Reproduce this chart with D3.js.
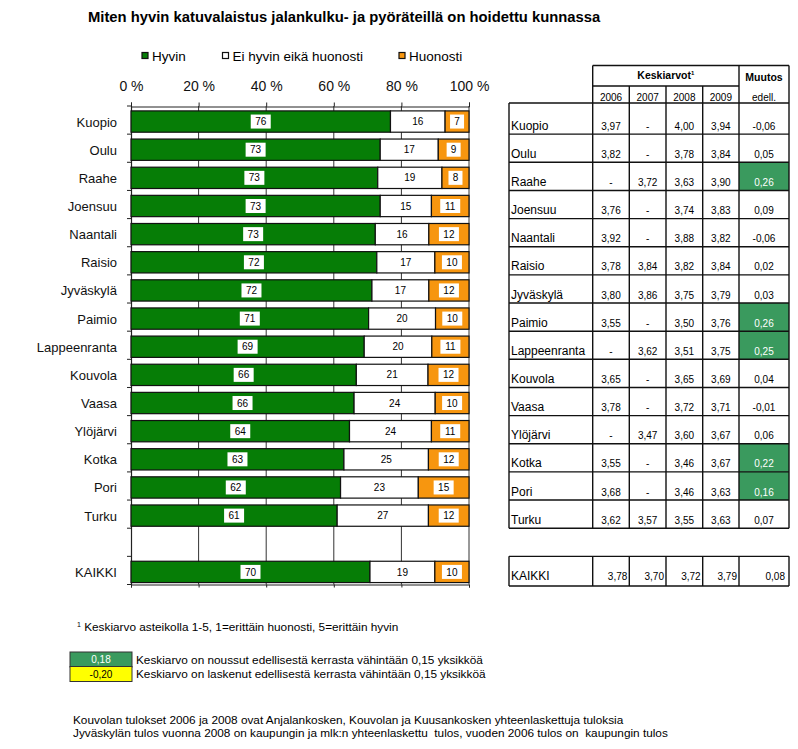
<!DOCTYPE html>
<html>
<head>
<meta charset="utf-8">
<script src="https://cdn.jsdelivr.net/npm/d3@7"></script>
<style>
  html, body { margin: 0; padding: 0; background: #fff; }
  svg { display: block; font-family: "Liberation Sans", Arial, sans-serif; }
  text { white-space: pre; }
</style>
</head>
<body>
<svg id="chart" width="798" height="749"></svg>
<script>
// ---------------- DATA ----------------
const cities = ["Kuopio","Oulu","Raahe","Joensuu","Naantali","Raisio","Jyväskylä","Paimio",
  "Lappeenranta","Kouvola","Vaasa","Ylöjärvi","Kotka","Pori","Turku","KAIKKI"];
const hyvin    = [76,73,73,73,73,72,72,71,69,66,66,64,63,62,61,70];
const eiHyvin  = [16,17,19,15,16,17,17,20,20,21,24,24,25,23,27,19];
const huonosti = [7, 9, 8, 11,12,10,12,10,11,12,10,11,12,15,12,10];
const seriesNames = ["Hyvin","Ei hyvin eikä huonosti","Huonosti"];
const xTicks = [0,20,40,60,80,100];

const years = ["2006","2007","2008","2009"];
const v2006 = ["3,97","3,82","-","3,76","3,92","3,78","3,80","3,55","-","3,65","3,78","-","3,55","3,68","3,62","3,78"];
const v2007 = ["-","-","3,72","-","-","3,84","3,86","-","3,62","-","-","3,47","-","-","3,57","3,70"];
const v2008 = ["4,00","3,78","3,63","3,74","3,88","3,82","3,75","3,50","3,51","3,65","3,72","3,60","3,46","3,46","3,55","3,72"];
const v2009 = ["3,94","3,84","3,90","3,83","3,82","3,84","3,79","3,76","3,75","3,69","3,71","3,67","3,67","3,63","3,63","3,79"];
const muutos = ["-0,06","0,05","0,26","0,09","-0,06","0,02","0,03","0,26","0,25","0,04","-0,01","0,06","0,22","0,16","0,07","0,08"];

const title = "Miten hyvin katuvalaistus jalankulku- ja pyöräteillä on hoidettu kunnassa";
const footnote1 = "Keskiarvo asteikolla 1-5, 1=erittäin huonosti, 5=erittäin hyvin";
const legendUp = ["0,18", "Keskiarvo on noussut edellisestä kerrasta vähintään 0,15 yksikköä"];
const legendDown = ["-0,20", "Keskiarvo on laskenut edellisestä kerrasta vähintään 0,15 yksikköä"];
const notes = ["Kouvolan tulokset 2006 ja 2008 ovat Anjalankosken, Kouvolan ja Kuusankosken yhteenlaskettuja tuloksia",
  "Jyväskylän tulos vuonna 2008 on kaupungin ja mlk:n yhteenlaskettu  tulos, vuoden 2006 tulos on  kaupungin tulos"];

// ---------------- STYLE ----------------
const colors = ["#067d06", "#ffffff", "#f7960f"];
const upColor = "#3a9a5e", downColor = "#ffff00";
const GAP = "\u00a0";

const svg = d3.select("#chart");
svg.append("rect").attr("width",798).attr("height",749).attr("fill","#fff");

const x = d3.scaleLinear().domain([0,100]).range([131,469]);
const rows = [...cities.slice(0,15), GAP, "KAIKKI"];
const y = d3.scaleBand().domain(rows).range([106,584.5]).padding(0);
const step = y.step();

// title
svg.append("text").attr("x",88).attr("y",21.5).attr("font-size",14.8).attr("font-weight","bold")
  .attr("fill","#000").text(title);

// legend
const legX = [142, 222.5, 399];
seriesNames.forEach((n,i) => {
  svg.append("rect").attr("x",legX[i]).attr("y",52.5).attr("width",6).attr("height",6)
    .attr("fill",colors[i]).attr("stroke","#111").attr("stroke-width",1.2);
  svg.append("text").attr("x",legX[i]+10).attr("y",60.5).attr("font-size",13.5).text(n);
});

// gridlines
svg.append("g").selectAll("line").data(xTicks.slice(1)).join("line")
  .attr("x1",d=>x(d)).attr("x2",d=>x(d)).attr("y1",106).attr("y2",584.5)
  .attr("stroke","#333").attr("stroke-width",1);

// top axis
const topAxis = svg.append("g").attr("transform","translate(0,106.5)")
  .call(d3.axisTop(x).tickValues(xTicks).tickSize(4).tickPadding(11.5).tickFormat(d=>d+" %"));
topAxis.select(".domain").attr("stroke","#222");
topAxis.selectAll("line").attr("stroke","#222");
topAxis.selectAll("text").attr("font-size",14).attr("font-family","Liberation Sans, Arial, sans-serif").attr("fill","#111");

// bottom axis
const botAxis = svg.append("g").attr("transform","translate(0,584.5)")
  .call(d3.axisBottom(x).tickValues(xTicks).tickSize(3).tickFormat(""));
botAxis.select(".domain").attr("stroke","#222");
botAxis.selectAll("line").attr("stroke","#222");

// left axis (labels)
const leftAxis = svg.append("g").attr("transform","translate(131,0)")
  .call(d3.axisLeft(y).tickSize(0).tickPadding(14));
leftAxis.select(".domain").attr("stroke","#222").attr("stroke-width",1.2);
leftAxis.selectAll("text").attr("font-size",13).attr("font-family","Liberation Sans, Arial, sans-serif")
  .attr("fill","#111").attr("dy","0.38em")
  .attr("transform", "translate(0,"+(step*0.174+step*0.757/2-step/2)+")");
// boundary ticks
const bounds = d3.range(rows.length+1).map(i => 106 + i*step);
svg.append("g").selectAll("line").data(bounds).join("line")
  .attr("x1",127).attr("x2",131).attr("y1",d=>d).attr("y2",d=>d).attr("stroke","#222");

// bars
const barData = cities.map((c,i) => {
  const vals = [hyvin[i], eiHyvin[i], huonosti[i]];
  const tot = d3.sum(vals);
  let acc = 0;
  return vals.map((v,k) => { const s = acc; acc += v; return {city:c, k, v, x0:s/tot*100, x1:acc/tot*100}; });
}).flat();
const barOff = step*0.174, barH = step*0.757;
const bars = svg.append("g");
bars.selectAll("rect").data(barData).join("rect")
  .attr("x",d=>x(d.x0)).attr("width",d=>x(d.x1)-x(d.x0))
  .attr("y",d=>y(d.city)+barOff).attr("height",barH)
  .attr("fill",d=>colors[d.k]).attr("stroke","#111").attr("stroke-width",1.2);
const lab = svg.append("g").selectAll("g").data(barData).join("g")
  .attr("transform",d=>`translate(${(x(d.x0)+x(d.x1))/2},${y(d.city)+barOff+barH/2})`);
lab.append("rect").attr("x",d=>-(8+6*String(d.v).length)/2).attr("y",-7)
  .attr("width",d=>8+6*String(d.v).length).attr("height",14).attr("fill","#fff");
lab.append("text").attr("text-anchor","middle").attr("dy","0.36em").attr("font-size",10)
  .attr("fill","#000").text(d=>d.v);

// ---------------- TABLE ----------------
const colE = [509, 592.7, 629.3, 666, 702.7, 739, 789];
const tbl = svg.append("g");
const L = (x1,y1,x2,y2) => tbl.append("line").attr("x1",x1).attr("y1",y1).attr("x2",x2).attr("y2",y2)
  .attr("stroke","#111").attr("stroke-width",1.4);
const tTop = 65.5, tMid = 86, tHead = 103;
const lastCity = cities[14];
const tBot = y(lastCity) + step;
const numCols = [v2006, v2007, v2008, v2009];
const rowTop = (i) => i === 0 ? tHead : y(cities[i]);
cities.forEach((c,i) => {
  const m = parseFloat(muutos[i].replace(",", "."));
  if (Math.abs(m) >= 0.15) {
    const top = i === 15 ? y(c) : rowTop(i);
    tbl.append("rect").attr("x",colE[5]).attr("y",top).attr("width",colE[6]-colE[5])
      .attr("height",y(c)+step-top).attr("fill", m > 0 ? upColor : downColor);
  }
});
L(colE[1],tTop,colE[6],tTop);
L(colE[1],tMid,colE[5],tMid);
L(colE[0],tHead,colE[6],tHead);
[1,5,6].forEach(k => L(colE[k],tTop,colE[k],tBot));
[2,3,4].forEach(k => L(colE[k],tMid,colE[k],tBot));
L(colE[0],tHead,colE[0],tBot);
cities.slice(0,15).forEach(c => L(colE[0], y(c)+step, colE[6], y(c)+step));
// KAIKKI block
const kT = y("KAIKKI"), kB = y("KAIKKI")+step+1.5;
L(colE[0],kT,colE[6],kT); L(colE[0],kB,colE[6],kB);
colE.forEach(e => L(e,kT,e,kB));

// header text
const hdr = tbl.append("text").attr("x",(colE[1]+colE[5])/2).attr("y",79).attr("text-anchor","middle")
  .attr("font-size",10.5).attr("font-weight","bold");
hdr.append("tspan").text("Keskiarvot");
hdr.append("tspan").attr("font-size",6).attr("dy",-4).text("1");
tbl.append("text").attr("x",(colE[5]+colE[6])/2).attr("y",80.5).attr("text-anchor","middle")
  .attr("font-size",10.5).attr("font-weight","bold").text("Muutos");
tbl.append("text").attr("x",(colE[5]+colE[6])/2).attr("y",100.5).attr("text-anchor","middle")
  .attr("font-size",10).text("edell.");
years.forEach((yr,k) => tbl.append("text").attr("x",(colE[k+1]+colE[k+2])/2).attr("y",100.5)
  .attr("text-anchor","middle").attr("font-size",10).text(yr));

// rows
cities.forEach((c,i) => {
  const base = y(c) + step - 4.5;
  const isAll = c === "KAIKKI";
  tbl.append("text").attr("x",511).attr("y",base).attr("font-size",12).text(c);
  numCols.forEach((col,k) => {
    tbl.append("text").attr("x", isAll ? colE[k+2]-2 : (colE[k+1]+colE[k+2])/2).attr("y",base)
      .attr("text-anchor", isAll ? "end" : "middle").attr("font-size",10).text(col[i]);
  });
  const m = parseFloat(muutos[i].replace(",", "."));
  tbl.append("text").attr("x", isAll ? colE[6]-4 : (colE[5]+colE[6])/2).attr("y",base)
    .attr("text-anchor", isAll ? "end" : "middle").attr("font-size",10)
    .attr("fill", m >= 0.15 ? "#fff" : "#000").text(muutos[i]);
});

// ---------------- FOOTNOTES ----------------
const fn = svg.append("text").attr("x",77).attr("y",631).attr("font-size",11.8);
fn.append("tspan").attr("font-size",7).attr("dy",-4).text("1");
fn.append("tspan").attr("dy",4).text(" " + footnote1);

const boxes = [[legendUp, upColor, "#fff", 652], [legendDown, downColor, "#000", 666.5]];
boxes.forEach(([t, fill, tc, by]) => {
  svg.append("rect").attr("x",70).attr("y",by).attr("width",62).attr("height",15)
    .attr("fill",fill).attr("stroke","#333").attr("stroke-width",1);
  svg.append("text").attr("x",101).attr("y",by+11).attr("text-anchor","middle").attr("font-size",10)
    .attr("fill",tc).text(t[0]);
  svg.append("text").attr("x",136).attr("y",by+11.5).attr("font-size",11.8).text(t[1]);
});
notes.forEach((n,i) => svg.append("text").attr("x",73).attr("y",724+i*13).attr("font-size",11.8).text(n));
</script>
</body>
</html>
